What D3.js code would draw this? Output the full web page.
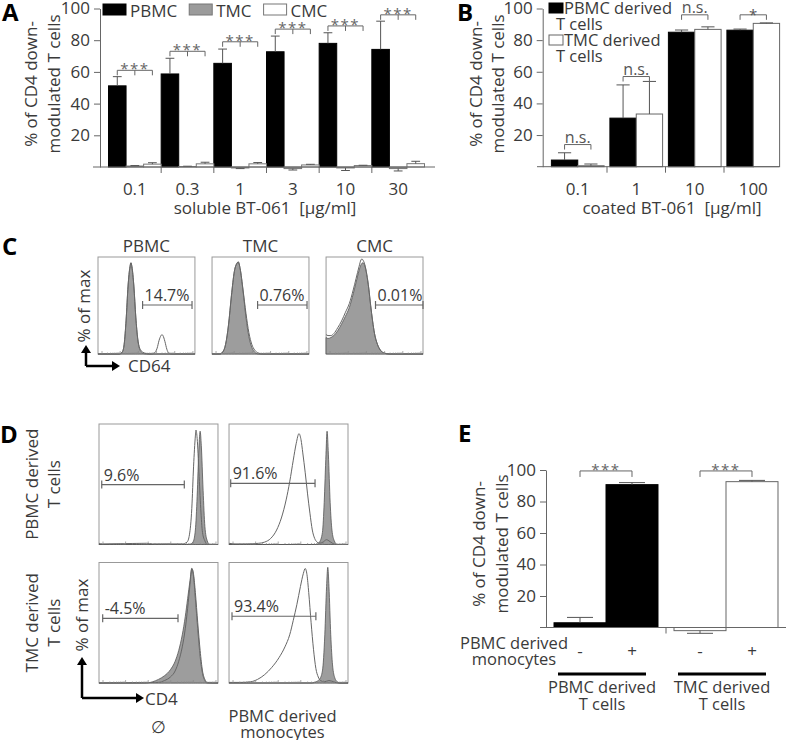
<!DOCTYPE html>
<html><head><meta charset="utf-8">
<script src="https://cdn.jsdelivr.net/npm/d3@7"></script>
<style>
body{margin:0;background:#fff}
svg text{font-family:"Open Sans",sans-serif;fill:#3a3a3a;white-space:pre}
</style>
</head><body>
<svg id="fig" width="787" height="740"></svg>
<script>
// ---------------- DATA ----------------
// Panel A
const aCategories = ["0.1", "0.3", "1", "3", "10", "30"];
const aSeries = ["PBMC", "TMC", "CMC"];
const aPBMC    = [51.2, 58.7, 65.4, 72.7, 78.0, 74.2];
const aPBMCErr = [5.8, 9.9, 9.0, 9.9, 6.7, 17.8];
const aTMC     = [0.6, 0.3, -0.6, -1.0, -0.6, -1.0];
const aTMCErr  = [0.3, 0.2, 0.4, 0.9, 1.6, 1.5];
const aCMC     = [1.8, 2.0, 2.0, 1.3, 0.9, 2.1];
const aCMCErr  = [0.9, 1.0, 0.8, 0.4, 0.2, 1.5];
const aSigLevel = [61, 73, 79, 87, 89, 96];
const aSigText = ["***", "***", "***", "***", "***", "***"];

// Panel B
const bCategories = ["0.1", "1", "10", "100"];
const bSeries = ["PBMC derived T cells", "TMC derived T cells"];
const bPBMC    = [4.2, 30.7, 85.0, 86.3];
const bPBMCErr = [4.6, 21.0, 1.4, 0.7];
const bTMC     = [0.6, 33.3, 86.8, 90.6];
const bTMCErr  = [1.1, 20.6, 1.6, 0.3];
const bSigLevel = [14, 57, 96, 96];
const bSigText = ["n.s.", "n.s.", "n.s.", "*"];

// Panel C  (histograms: [% of axis width, % of max])
const cSamples = ["PBMC", "TMC", "CMC"];
const cGates = ["14.7%", "0.76%", "0.01%"];
const cGateFrom = [46, 47, 51];
const cGateTo = [97, 98, 100];
const cGateLevel = [50.5, 50.5, 50.5];
const cPBMCControl = [[0,0],[22,0],[25,2],[27,10],[29,35],[31,70],[33,90],[34,94],[35,90],[37,70],[39,38],[41,15],[43,5],[46,1],[50,0],[100,0]];
const cPBMCStained = [[0,0],[22,0],[25,2],[27,10],[29,35],[31,70],[33,90],[34,94],[35,90],[37,70],[39,38],[41,16],[43,6],[46,2],[50,0.5],[55,0],[58,1],[61,6],[63,14],[65,19],[66,20],[67,19],[69,13],[71,5],[73,1],[76,0],[100,0]];
const cTMCControl = [[0,0],[8,0],[11,2],[14,10],[17,30],[20,60],[23,85],[26,94],[27,95],[29,88],[32,65],[35,38],[38,18],[41,7],[44,2],[48,0],[100,0]];
const cTMCStained = [[0,0],[8,0],[11,2],[14,10],[17,30],[20,60],[23,85],[26,94],[27,95],[29,88],[32,66],[35,42],[38,22],[41,10],[44,4],[48,1],[52,0],[100,0]];
const cCMCControl = [[0,17],[2,16],[5,17],[8,19],[12,24],[16,31],[20,39],[24,48],[28,62],[31,74],[34,86],[36,92],[38,94],[40,91],[42,82],[44,68],[46,50],[48,34],[50,21],[53,10],[56,4],[60,1],[65,0],[100,0]];
const cCMCStained = [[0,20],[2,19],[5,19],[8,21],[12,27],[16,34],[20,43],[24,52],[28,66],[31,78],[34,90],[36,97],[37,98],[38,97],[40,92],[42,82],[44,68],[46,50],[48,34],[50,21],[53,10],[56,4],[60,1],[65,0],[100,0]];

// Panel D
const dRows = ["PBMC derived T cells", "TMC derived T cells"];
const dCols = ["none", "PBMC derived monocytes"];
const dGates = ["9.6%", "91.6%", "-4.5%", "93.4%"];
const dGateFrom = [2.3, 1.4, 3.1, 2.5];
const dGateTo = [71.7, 72.3, 66.4, 73];
const dGateLevel = [49.7, 50.8, 53.7, 55.4];
const dTLControl = [[0,0],[76,0],[79,2],[81,12],[82.5,40],[84,80],[85,94],[86,82],[87.5,45],[89,15],[91,3],[93,0],[100,0]];
const dTLStained = [[0,1],[3,0.5],[40,1],[45,0.5],[70,0.5],[74,2],[76,8],[78,30],[79.5,65],[81,90],[81.5,95],[82.5,88],[84,60],[85.5,30],[87,10],[89,3],[91,0],[100,0]];
const dTRControl = [[0,0],[73,0],[76,2],[78.5,10],[80,35],[81.5,75],[82.4,94],[83.5,75],[85,35],[86.5,12],[88.5,3],[91,0],[100,0]];
const dTRStained = [[0,1],[5,0.5],[15,0.5],[25,1],[30,2],[35,5],[40,12],[44,22],[48,37],[51,52],[54,70],[56.5,84],[58.8,92],[60.5,87],[62,76],[64,60],[66,42],[68,26],[70,12],[72,5],[74,2],[76,1],[79,2],[82,4],[84,3],[87,1],[90,0],[100,0]];
const dBLControl = [[0,0],[40,0],[45,1],[50,3],[55,6],[60,11],[64,18],[67,27],[70,40],[72.5,55],[74.5,70],[76.5,85],[78,95],[79.5,88],[81,70],[83,45],[85,22],[87,8],[89,2],[91,0],[100,0]];
const dBLStained = [[0,0],[50,0.5],[55,2],[60,5],[64,10],[67,18],[70,30],[72.5,45],[74.5,62],[76.5,82],[78,95],[79.5,90],[81,75],[83,50],[85,27],[87,10],[89,3],[91,0.5],[100,0]];
const dBRControl = [[0,0],[70,0],[73,1],[76,3],[78.5,10],[80.5,40],[82,80],[83,96],[84,80],[85.5,40],[87,15],[89,4],[91,1],[93,0],[100,0]];
const dBRStained = [[0,0.5],[10,0.5],[18,1],[24,3],[30,7],[36,13],[42,21],[47,30],[51,40],[54,52],[57,65],[60,80],[62.5,91],[64,95],[65.5,90],[67,75],[69,50],[71,28],[73,12],[75,5],[77,2],[80,1],[84,2],[88,1],[92,0],[100,0]];

// Panel E
const eGroups = ["PBMC derived T cells", "TMC derived T cells"];
const eMonocytes = ["-", "+"];
const ePBMC    = [3.0, 90.7];
const ePBMCErr = [3.4, 1.3];
const eTMC     = [-2.0, 92.6];
const eTMCErr  = [1.7, 0.8];
const eSigLevel = [99.4, 99.4];
const eSigText = ["***", "***"];

// ---------------- DRAWING ----------------
const svg = d3.select("#fig");
const TXT = "#3a3a3a", AX = "#666", FS = 17;

function label(g, x, y, s, o = {}) {
  const t = g.append("text").attr("x", x).attr("y", y).text(s)
    .attr("font-size", o.size || FS)
    .attr("text-anchor", o.anchor || "start");
  if (o.weight) t.attr("font-weight", o.weight);
  if (o.fill) t.style("fill", o.fill);
  if (o.rotate) t.attr("transform", `rotate(-90,${x},${y})`);
  if (o.ls) t.attr("letter-spacing", o.ls);
  return t;
}
function line(g, x1, y1, x2, y2, c = AX, w = 1) {
  return g.append("line").attr("x1", x1).attr("y1", y1).attr("x2", x2).attr("y2", y2)
    .attr("stroke", c).attr("stroke-width", w);
}
function styleAxis(sel) {
  sel.select(".domain").attr("stroke", AX);
  sel.selectAll(".tick line").attr("stroke", AX);
  sel.selectAll(".tick text").attr("font-size", FS).style("fill", TXT).attr("font-family", '"Open Sans",sans-serif');
}
function errorBar(g, cx, y, v, e, cap) {
  const y0 = y(v), y1 = y(v >= 0 ? v + e : v - e);
  line(g, cx, y0, cx, y1, "#555", 1);
  line(g, cx - cap / 2, y1, cx + cap / 2, y1, "#555", 1);
}

// ======== Panel A ========
{
  const g = svg.append("g");
  const y = d3.scaleLinear().domain([0, 100]).range([167, 8.5]);
  const x = d3.scaleBand().domain(aCategories).range([108.5, 424.5]);
  const xi = d3.scaleBand().domain(aSeries).range([0, x.bandwidth()]);
  const vals = { PBMC: aPBMC, TMC: aTMC, CMC: aCMC };
  const errs = { PBMC: aPBMCErr, TMC: aTMCErr, CMC: aCMCErr };
  const fill = { PBMC: "#000", TMC: "#9b9b9b", CMC: "#fff" };
  const stroke = { PBMC: "#000", TMC: "#777", CMC: "#777" };

  aSeries.forEach(s => {
    aCategories.forEach((c, i) => {
      const v = vals[s][i];
      g.append("rect").attr("x", x(c) + xi(s)).attr("width", xi.bandwidth())
        .attr("y", y(Math.max(v, 0))).attr("height", Math.abs(y(v) - y(0)))
        .attr("fill", fill[s]).attr("stroke", stroke[s]).attr("stroke-width", 1);
      errorBar(g, x(c) + xi(s) + xi.bandwidth() / 2, y, v, errs[s][i], xi.bandwidth() / 2);
    });
  });
  const ya = g.append("g").attr("transform", "translate(100,0)")
    .call(d3.axisLeft(y).tickValues([20, 40, 60, 80, 100]).tickSize(6).tickSizeOuter(0).tickPadding(4));
  styleAxis(ya);
  line(g, 93, y(0), 435, y(0));
  aCategories.forEach((c, i) => {
    if (i > 0) line(g, x(c), y(0), x(c), y(0) + 6);
    label(g, x(c) + x.bandwidth() / 2, 195, c, { anchor: "middle" });
  });
  label(g, 265, 214, "soluble BT-061  [µg/ml]", { anchor: "middle" });
  label(g, 37, 84, "% of CD4 down-", { anchor: "middle", rotate: true });
  label(g, 60, 84, "modulated T cells", { anchor: "middle", rotate: true });
  aCategories.forEach((c, i) => {
    const x1 = x(c) + xi("PBMC") + xi.bandwidth() / 2;
    const xm = x(c) + xi("TMC") + xi.bandwidth() / 2;
    const x2 = x(c) + xi("CMC") + xi.bandwidth() / 2;
    const yy = y(aSigLevel[i]);
    line(g, x1, yy, x2, yy); line(g, x1, yy, x1, yy + 5); line(g, x2, yy, x2, yy + 5); line(g, xm, yy, xm, yy + 5);
    label(g, xm, yy + 4, aSigText[i], { anchor: "middle", size: 15, fill: "#666", ls: 1.5 });
  });
  let lx = 103;
  aSeries.forEach(s => {
    g.append("rect").attr("x", lx).attr("y", 4).attr("width", 23).attr("height", 11)
      .attr("fill", fill[s]).attr("stroke", stroke[s]);
    const t = label(g, lx + 27, 16.5, s);
    lx = lx + 27 + t.node().getComputedTextLength() + 12;
  });
  label(g, 2, 21, "A", { size: 24, weight: "bold", fill: "#000" });
}

// ======== Panel B ========
{
  const g = svg.append("g");
  const y = d3.scaleLinear().domain([0, 100]).range([166.7, 8.5]);
  const x = d3.scaleBand().domain(bCategories).range([548.5, 782.5]);
  const xi = d3.scaleBand().domain(bSeries).range([0, x.bandwidth()]).paddingOuter(0.11);
  const vals = [bPBMC, bTMC], errs = [bPBMCErr, bTMCErr];
  const fill = ["#000", "#fff"], stroke = ["#000", "#666"];
  bSeries.forEach((s, k) => {
    bCategories.forEach((c, i) => {
      const v = vals[k][i];
      g.append("rect").attr("x", x(c) + xi(s)).attr("width", xi.bandwidth())
        .attr("y", y(Math.max(v, 0))).attr("height", Math.abs(y(v) - y(0)))
        .attr("fill", fill[k]).attr("stroke", stroke[k]);
      errorBar(g, x(c) + xi(s) + xi.bandwidth() / 2, y, v, errs[k][i], xi.bandwidth() / 2);
    });
  });
  const ya = g.append("g").attr("transform", "translate(542.7,0)")
    .call(d3.axisLeft(y).tickValues([20, 40, 60, 80, 100]).tickSize(6).tickSizeOuter(0).tickPadding(4));
  styleAxis(ya);
  line(g, 537, y(0), 779, y(0));
  bCategories.forEach((c, i) => {
    if (i > 0) line(g, x(c), y(0), x(c), y(0) + 6);
    label(g, x(c) + x.bandwidth() / 2, 195, c, { anchor: "middle" });
  });
  label(g, 672, 214, "coated BT-061  [µg/ml]", { anchor: "middle" });
  label(g, 482, 84, "% of CD4 down-", { anchor: "middle", rotate: true });
  label(g, 504, 84, "modulated T cells", { anchor: "middle", rotate: true });
  bCategories.forEach((c, i) => {
    const x1 = x(c) + xi(bSeries[0]) + xi.bandwidth() / 2;
    const x2 = x(c) + xi(bSeries[1]) + xi.bandwidth() / 2;
    const yy = y(bSigLevel[i]);
    line(g, x1, yy, x2, yy); line(g, x1, yy, x1, yy + 5); line(g, x2, yy, x2, yy + 5);
    if (bSigText[i] === "*") label(g, (x1 + x2) / 2, yy + 5, "*", { anchor: "middle", size: 15, fill: "#555" });
    else label(g, (x1 + x2) / 2, yy - 2, bSigText[i], { anchor: "middle", size: 16, fill: "#555" });
  });
  const legY = [3, 35];
  bSeries.forEach((s, k) => {
    g.append("rect").attr("x", 549).attr("y", legY[k]).attr("width", 14).attr("height", 10)
      .attr("fill", fill[k]).attr("stroke", stroke[k]);
    const words = s.split(" ");
    label(g, 564, legY[k] + 11, words.slice(0, 2).join(" "), { size: 16.5 });
    label(g, 556, legY[k] + 27, words.slice(2).join(" "), { size: 16.5 });
  });
  label(g, 457, 21, "B", { size: 24, weight: "bold", fill: "#000" });
}

// ======== histogram helper ========
function hist(g, x0, x1, y0, y1, control, stained, gateTxt, gFrom, gTo, gLevel) {
  const x = d3.scaleLinear().domain([0, 100]).range([x0, x1]);
  const y = d3.scaleLinear().domain([0, 100]).range([y1, y0]);
  g.append("rect").attr("x", x0).attr("y", y0).attr("width", x1 - x0).attr("height", y1 - y0)
    .attr("fill", "#fff").attr("stroke", "#999");
  const area = d3.area().x(d => x(d[0])).y0(y(0)).y1(d => y(d[1])).curve(d3.curveMonotoneX);
  const ln = d3.line().x(d => x(d[0])).y(d => y(d[1])).curve(d3.curveMonotoneX);
  g.append("path").attr("d", area(control)).attr("fill", "#9d9d9d").attr("stroke", "#555").attr("stroke-width", 0.8);
  g.append("path").attr("d", ln(stained)).attr("fill", "none").attr("stroke", "#666").attr("stroke-width", 1);
  const lx = d3.scaleLog().domain([1, 100000]).range([x0 + 4, x1 - 2]);
  lx.ticks().forEach(t => line(g, lx(t), y1, lx(t), y1 - (String(t)[0] === "1" ? 3 : 1.5), "#888", 0.7));
  const gy = y(gLevel);
  line(g, x(gFrom), gy, x(gTo), gy, "#666", 1.2);
  line(g, x(gFrom), gy - 4, x(gFrom), gy + 4, "#666", 1.2);
  line(g, x(gTo), gy - 4, x(gTo), gy + 4, "#666", 1.2);
  label(g, x(gFrom) + 2, gy - 4, gateTxt, { size: 16 });
}

// ======== Panel C ========
{
  const g = svg.append("g");
  const x = d3.scaleBand().domain(cSamples).range([98, 423]).paddingInner(0.15);
  const controls = [cPBMCControl, cTMCControl, cCMCControl];
  const stained = [cPBMCStained, cTMCStained, cCMCStained];
  cSamples.forEach((s, i) => {
    hist(g, x(s), x(s) + x.bandwidth(), 257, 354, controls[i], stained[i], cGates[i], cGateFrom[i], cGateTo[i], cGateLevel[i]);
    label(g, x(s) + x.bandwidth() / 2, 252, s, { anchor: "middle" });
  });
  label(g, 90, 306, "% of max", { anchor: "middle", rotate: true });
  line(g, 86, 366, 113, 366, "#000", 2.5);
  line(g, 86, 366, 86, 352, "#000", 2.5);
  g.append("path").attr("d", "M112,361 L120,366 L112,371 Z").attr("fill", "#000");
  g.append("path").attr("d", "M81,353 L86,345 L91,353 Z").attr("fill", "#000");
  label(g, 128, 372, "CD64");
  label(g, 2, 255, "C", { size: 24, weight: "bold", fill: "#000" });
}

// ======== Panel D ========
{
  const g = svg.append("g");
  const xc = d3.scaleBand().domain(dCols).range([99, 348]).paddingInner(0.085);
  const yr = d3.scaleBand().domain(dRows).range([424, 683]).paddingInner(0.13);
  const controls = [dTLControl, dTRControl, dBLControl, dBRControl];
  const stained = [dTLStained, dTRStained, dBLStained, dBRStained];
  dRows.forEach((r, ri) => dCols.forEach((c, ci) => {
    const k = ri * 2 + ci;
    hist(g, xc(c), xc(c) + xc.bandwidth(), yr(r), yr(r) + yr.bandwidth(), controls[k], stained[k], dGates[k], dGateFrom[k], dGateTo[k], dGateLevel[k]);
  }));
  dRows.forEach(r => {
    const cy = yr(r) + yr.bandwidth() / 2;
    const w = r.split(" ");
    label(g, 38, cy, w.slice(0, 2).join(" "), { anchor: "middle", rotate: true });
    label(g, 60, cy, w.slice(2).join(" "), { anchor: "middle", rotate: true });
  });
  label(g, 88, 615, "% of max", { anchor: "middle", rotate: true });
  line(g, 82, 698, 137, 698, "#000", 2.5);
  line(g, 82, 698, 82, 664, "#000", 2.5);
  g.append("path").attr("d", "M136,693 L144,698 L136,703 Z").attr("fill", "#000");
  g.append("path").attr("d", "M77,665 L82,657 L87,665 Z").attr("fill", "#000");
  label(g, 145, 705, "CD4");
  label(g, xc(dCols[0]) + xc.bandwidth() / 2, 733, "∅", { anchor: "middle" });
  label(g, xc(dCols[1]) + xc.bandwidth() / 2 - 6, 722, "PBMC derived", { anchor: "middle", size: 16.5 });
  label(g, xc(dCols[1]) + xc.bandwidth() / 2 - 6, 738, "monocytes", { anchor: "middle", size: 16.5 });
  label(g, 0, 443, "D", { size: 24, weight: "bold", fill: "#000" });
}

// ======== Panel E ========
{
  const g = svg.append("g");
  const y = d3.scaleLinear().domain([0, 100]).range([627.5, 470]);
  const x = d3.scaleBand().domain(eGroups).range([546, 786]);
  const xi = d3.scaleBand().domain(eMonocytes).range([0, x.bandwidth()]).paddingOuter(0.154);
  const vals = [ePBMC, eTMC], errs = [ePBMCErr, eTMCErr];
  const fill = ["#000", "#fff"], stroke = ["#000", "#666"];
  eGroups.forEach((grp, k) => {
    eMonocytes.forEach((m, i) => {
      const v = vals[k][i];
      g.append("rect").attr("x", x(grp) + xi(m)).attr("width", xi.bandwidth())
        .attr("y", y(Math.max(v, 0))).attr("height", Math.abs(y(v) - y(0)))
        .attr("fill", fill[k]).attr("stroke", stroke[k]);
      errorBar(g, x(grp) + xi(m) + xi.bandwidth() / 2, y, v, errs[k][i], xi.bandwidth() / 2);
      label(g, x(grp) + xi(m) + xi.bandwidth() / 2, 657, m, { anchor: "middle" });
    });
    const x1 = x(grp) + xi("-") + xi.bandwidth() / 2, x2 = x(grp) + xi("+") + xi.bandwidth() / 2;
    const yy = y(eSigLevel[k]);
    line(g, x1, yy, x2, yy); line(g, x1, yy, x1, yy + 6); line(g, x2, yy, x2, yy + 6);
    label(g, (x1 + x2) / 2, yy + 4, eSigText[k], { anchor: "middle", size: 15, fill: "#666", ls: 1.5 });
    const cx = x(grp) + x.bandwidth() / 2 - 4;
    line(g, cx - 44, 674, cx + 44, 674, "#000", 3);
    const w = grp.split(" ");
    label(g, cx, 693, w.slice(0, 2).join(" "), { anchor: "middle", size: 16.5 });
    label(g, cx, 710, w.slice(2).join(" "), { anchor: "middle", size: 16.5 });
  });
  const ya = g.append("g").attr("transform", "translate(546,0)")
    .call(d3.axisLeft(y).tickValues([20, 40, 60, 80, 100]).tickSize(6).tickSizeOuter(0).tickPadding(4));
  styleAxis(ya);
  line(g, 540, y(0), 786, y(0));
  line(g, x(eGroups[1]), y(0), x(eGroups[1]), y(0) + 6);
  label(g, 514, 649, "PBMC derived", { anchor: "middle", size: 16.5 });
  label(g, 514, 665, "monocytes", { anchor: "middle", size: 16.5 });
  label(g, 485, 544, "% of CD4 down-", { anchor: "middle", rotate: true });
  label(g, 508, 544, "modulated T cells", { anchor: "middle", rotate: true });
  label(g, 458, 442, "E", { size: 24, weight: "bold", fill: "#000" });
}
</script>
</body></html>
